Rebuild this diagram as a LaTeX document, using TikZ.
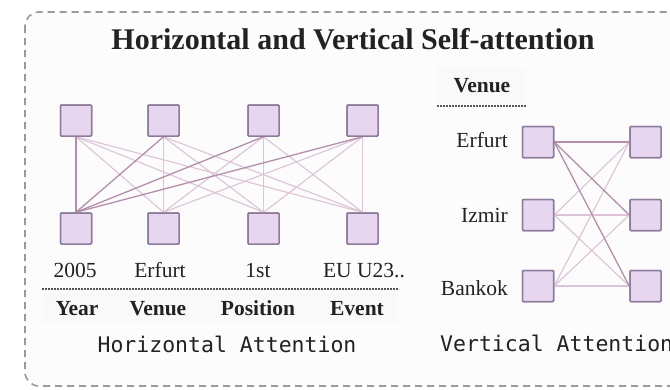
\documentclass[tikz,border=0pt]{standalone}
\usepackage{fontspec}
\setmainfont{Liberation Serif}
\newfontfamily\monofont{DejaVu Sans Mono}
\begin{document}
\begin{tikzpicture}[x=1pt,y=-1pt,
  cell/.style={draw=boxedge,fill=boxfill,line width=1.5pt,minimum size=31pt,inner sep=0pt,rounded corners=1pt},
  lbl/.style={font=\fontsize{21.5}{22}\selectfont,text=ink,inner sep=0pt,anchor=base},
  hdr/.style={font=\fontsize{21.5}{22}\selectfont\bfseries,text=ink,inner sep=0pt,anchor=base},
  caption/.style={font=\fontsize{21.5}{22}\selectfont\monofont,text=ink,inner sep=0pt,anchor=base},
  strong/.style={draw=linkdark,line width=1.3pt},
  weak/.style={draw=linklight,line width=1.1pt},
  rule/.style={draw=rulegray,line width=1.1pt,dash pattern=on 2pt off 1pt}
]
\definecolor{boxfill}{HTML}{E6D6EF}
\definecolor{boxedge}{HTML}{8E7A9A}
\definecolor{linkdark}{HTML}{B48FAC}
\definecolor{linklight}{HTML}{DCC3D6}
\definecolor{ink}{HTML}{222222}
\definecolor{rulegray}{HTML}{555555}
\definecolor{framegray}{HTML}{9A9A9A}

\useasboundingbox (0,0) rectangle (670,389);
\clip (0,0) rectangle (670,389);

% dashed outer frame
\draw[framegray,line width=1.6pt,dash pattern=on 7pt off 5pt,rounded corners=14pt,fill=white!99!black]
  (25,12) rectangle (720,386);

% title
\node[font=\fontsize{30}{31}\selectfont\bfseries,text=ink,inner sep=0pt,anchor=base] (title) at (353,49) {Horizontal and Vertical Self-attention};

% ---------- horizontal attention ----------
\fill[black!2.5] (44,291) rectangle (398,323);
\foreach \i/\x in {1/76,2/163.5,3/263.5,4/362.5}{
  \node[cell] (t\i) at (\x,120.5) {};
  \node[cell] (b\i) at (\x,228.5) {};
}
\foreach \i in {1,2,3,4}
  \foreach \j in {2,3,4}
    \draw[weak] (t\i.south) -- (b\j.north);
\foreach \i in {1,2,3,4} \draw[strong] (t\i.south) -- (b1.north);
\foreach \i in {1,2,3,4} {\node[cell] at (t\i) {}; \node[cell] at (b\i) {};}

\node[lbl] (v1) at (75,277) {2005};
\node[lbl] (v2) at (160,277) {Erfurt};
\node[lbl] (v3) at (258,277) {1st};
\node[lbl] (v4) at (364,277) {EU U23..};
\coordinate (hl) at (42,289);
\coordinate (hr) at (399,289);
\draw[rule] (hl) -- (hr);
\node[hdr] (h1) at (77,315) {Year};
\node[hdr] (h2) at (158,315) {Venue};
\node[hdr] (h3) at (258,315) {Position};
\node[hdr] (h4) at (357,315) {Event};
\node[caption] (hcap) at (227,352) {Horizontal Attention};

% ---------- vertical attention ----------
\fill[black!2.5] (437,68) rectangle (526,104);
\node[hdr] (vh) at (482,92) {Venue};
\coordinate (vl) at (437,106);
\coordinate (vr) at (526,106);
\draw[rule] (vl) -- (vr);
\foreach \i/\y in {1/142,2/215,3/286}{
  \node[cell] (l\i) at (538,\y) {};
  \node[cell] (r\i) at (645.5,\y) {};
}
\foreach \i in {2,3}
  \foreach \j in {1,2,3}
    \draw[weak] (l\i.east) -- (r\j.west);
\foreach \j in {1,2,3} \draw[strong] (l1.east) -- (r\j.west);
\foreach \i in {1,2,3} {\node[cell] at (l\i) {}; \node[cell] at (r\i) {};}

\node[lbl,anchor=base east] (c1) at (508,147) {Erfurt};
\node[lbl,anchor=base east] (c2) at (508,222) {Izmir};
\node[lbl,anchor=base east] (c3) at (508,295) {Bankok};
\node[caption,anchor=base west] (vcap) at (440,351) {Vertical Attention};
\end{tikzpicture}
\end{document}
